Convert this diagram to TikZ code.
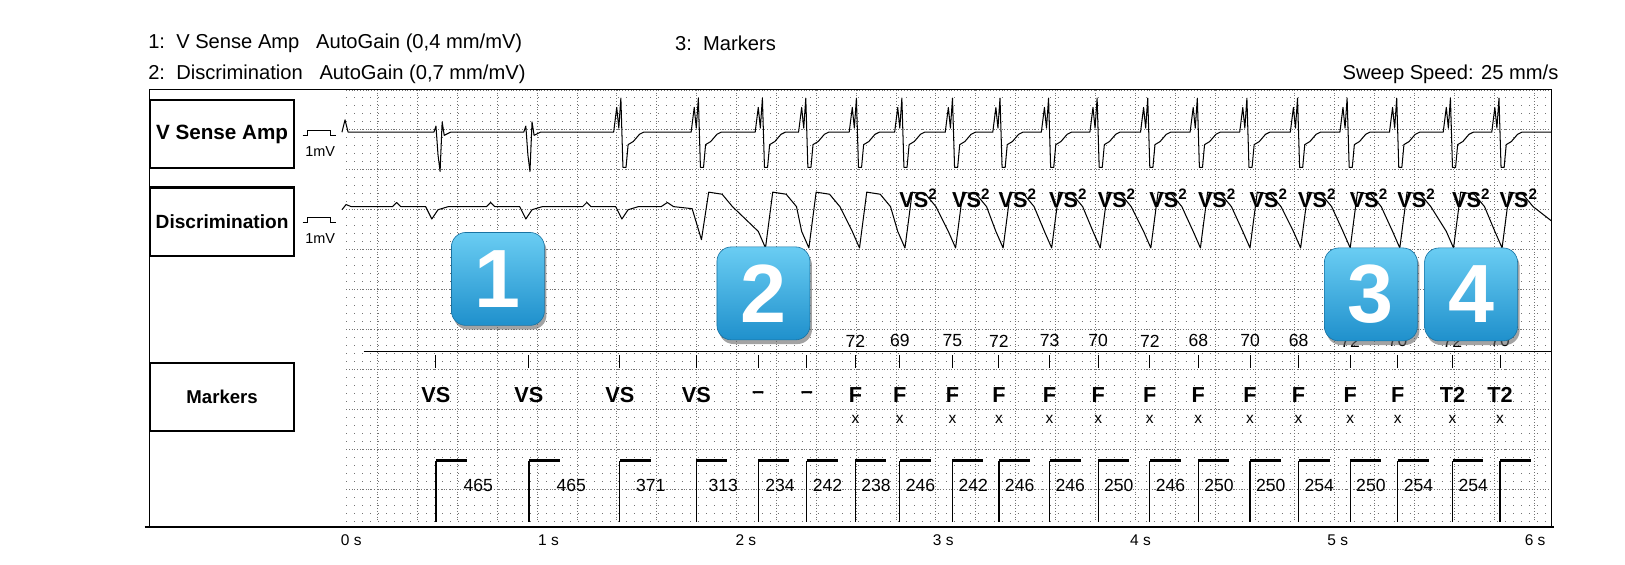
\documentclass[tikz,border=0pt]{standalone}
\usepackage{fontspec}
\setmainfont{Liberation Sans}
\usetikzlibrary{shadows}
\definecolor{badgetop}{HTML}{6ACDF3}
\definecolor{badgebot}{HTML}{1F90CC}
\tikzset{
  lbl/.style={draw, line width=2pt, minimum width=140pt, minimum height=66pt, inner sep=1pt, font=\fontsize{20}{20}\selectfont\bfseries},
  trace/.style={line width=1pt, line join=round},
  mk/.style={font=\fontsize{21}{21}\selectfont\bfseries},
  num/.style={font=\fontsize{17}{17}\selectfont},
  hdr/.style={font=\fontsize{19.5}{20}\selectfont},
  badge/.style={rounded corners=14pt, minimum size=90pt, inner sep=0pt,
    top color=badgetop, bottom color=badgebot, draw=badgebot!80!black, line width=0.6pt,
    drop shadow={shadow xshift=2pt, shadow yshift=-4pt, fill=black!60, opacity=0.6},
    text=white, font=\fontsize{80}{80}\selectfont\bfseries}
}
\begin{document}
\begin{tikzpicture}[x=1pt,y=-1pt]
  \useasboundingbox (0,0) rectangle (1573,546);
  % header
  \node[hdr, anchor=west] (h1) at (140,42) {1:\ \ V Sense Amp\ \ \ AutoGain (0,4 mm/mV)};
  \node[hdr, anchor=west] (h2) at (140,72) {2:\ \ Discrimination\ \ \ AutoGain (0,7 mm/mV)};
  \node[hdr, anchor=west] (h3) at (650,42) {3:\ \ Markers};
  \node[hdr, anchor=east] (spd) at (1512,72) {Sweep Speed: 25 mm/s};
  % grid
  \foreach \y in {87,94.74,...,506}
    \draw[black!55, line width=0.9pt, dash pattern=on 0.9pt off 6.84pt] (335,\y) -- (1502,\y);
  \foreach \y in {87,125.7,...,506}
    \draw[black!55, line width=0.7pt, dash pattern=on 0.8pt off 1.9pt] (335,\y) -- (1502,\y);
  \foreach \x in {365.5,404.1,...,1500}
    \draw[black!55, line width=0.7pt, dash pattern=on 0.8pt off 1.9pt] (\x,87) -- (\x,505);
  % frame
  \draw[line width=1.2pt] (145,510) -- (145,87) -- (1502,87) -- (1502,510);
  \draw[line width=2.5pt] (140,510) -- (1504,510);
  % channel labels
  \node[lbl] (vsa) at (215,130) {V Sense Amp};
  \node[lbl, font=\fontsize{18.5}{19}\selectfont\bfseries] (dis) at (215,214.5) {Discrimination};
  \node[lbl, font=\fontsize{18}{18}\selectfont\bfseries] (mrk) at (215,384.5) {Markers};
  % 1mV calibration
  \draw[line width=0.8pt] (293,131) -- (298,131) -- (298,126) -- (320,126) -- (320,131) -- (325,131);
  \node[font=\fontsize{14}{14}\selectfont] (cal1) at (310,147) {1mV};
  \draw[line width=0.8pt] (293,215) -- (298,215) -- (298,210) -- (320,210) -- (320,215) -- (325,215);
  \node[font=\fontsize{14}{14}\selectfont] (cal2) at (310,231) {1mV};
  % V sense trace
  \draw[trace] (331,128) -- (334,116) -- (337,128)
    foreach \b in {426,513} { -- ({\b-6},128) -- ({\b-4},122) -- ({\b-2},150) -- (\b,166) -- ({\b+2},118) -- ({\b+4},131) -- ({\b+10},128) }
    foreach \b in {604,679,741,783,832,876,925,971,1018,1065,1114,1162,1210,1259,1307,1355,1407,1454}
      { -- ({\b-10},128) -- ({\b-7},104) -- ({\b-5},124) -- ({\b-3},95) -- ({\b-1},162) -- ({\b+2},162) -- ({\b+4},140) -- ({\b+9},137) -- ({\b+15},130) -- ({\b+19},128) }
    -- (1502,128);
  % discrimination trace
  \draw[trace] (331,203) -- (335,198) -- (340,200)
    foreach \b in {420,511,604} { -- ({\b-40},200) -- ({\b-36},196) -- ({\b-32},200) -- ({\b-8},200) -- ({\b-2},212) -- ({\b+4},203) -- ({\b+14},200) }
    -- (640,200) -- (646,196) -- (652,200) -- (670,202) -- (679,232)
    foreach \b [remember=\b as \p (initially 679)] in {741,783,832,876,925,971,1018,1065,1114,1162,1210,1259,1307,1355,1407,1454}
      { -- ({\p+7},186) -- ({\p+20},188) -- ({\p+30},200) -- ({\b-7},224) -- (\b,240) }
    -- (1461,186) -- (1474,188) -- (1484,200) -- (1502,214);
  \foreach \x in {871,922,967,1016,1063,1113,1160,1210,1257,1307,1353,1406,1452}
    \node[mk] at ({\x+18},192) {VS\textsuperscript{2}};
  % rate numbers and marker line
  \draw[line width=1pt] (352,340) -- (1502,340);
  \foreach \x/\r in {828/72,871/69,922/75,967/72,1016/73,1063/70,1113/72,1160/68,1210/70,1257/68,1307/72,1353/70,1406/72,1452/70}
    \node[num] at (\x,330) {\r};
  \foreach \x/\m in {422/VS,512/VS,600/VS,674/VS,734/--,781/--,828/F,871/F,922/F,967/F,1016/F,1063/F,1113/F,1160/F,1210/F,1257/F,1307/F,1353/F,1406/T2,1452/T2} {
    \draw[line width=1pt] (\x,344) -- (\x,356);
    \node[mk] at (\x,382) {\m};
  }
  \foreach \x in {828,871,922,967,1016,1063,1113,1160,1210,1257,1307,1353,1406,1452}
    \node[num, font=\fontsize{15}{15}\selectfont] at (\x,406) {x};
  % intervals
  \foreach \x in {422,512,600,674,734,781,828,871,922,967,1016,1063,1113,1160,1210,1257,1307,1353,1406,1452} {
    \draw[line width=1.2pt] (\x,505) -- (\x,446);
    \draw[line width=2.5pt] (\x,446) -- ({\x+30},446);
  }
  \foreach \c/\v in {463/465,553/465,630/371,700/313,755/234,801/242,848/238,891/246,942/242,987/246,1036/246,1083/250,1133/246,1180/250,1230/250,1277/254,1327/250,1373/254,1426/254}
    \node[num] at (\c,470) {\v};
  % time axis
  \foreach \t in {0,...,6}
    \node[font=\fontsize{15}{15}\selectfont] at ({340+191*\t},523) {\t\ s};
  % badges
  \node[badge] (b1) at (482,270) {1};
  \node[badge] (b2) at (739,284) {2};
  \node[badge] (b3) at (1327,285) {3};
  \node[badge] (b4) at (1424,285) {4};
\end{tikzpicture}
\end{document}
